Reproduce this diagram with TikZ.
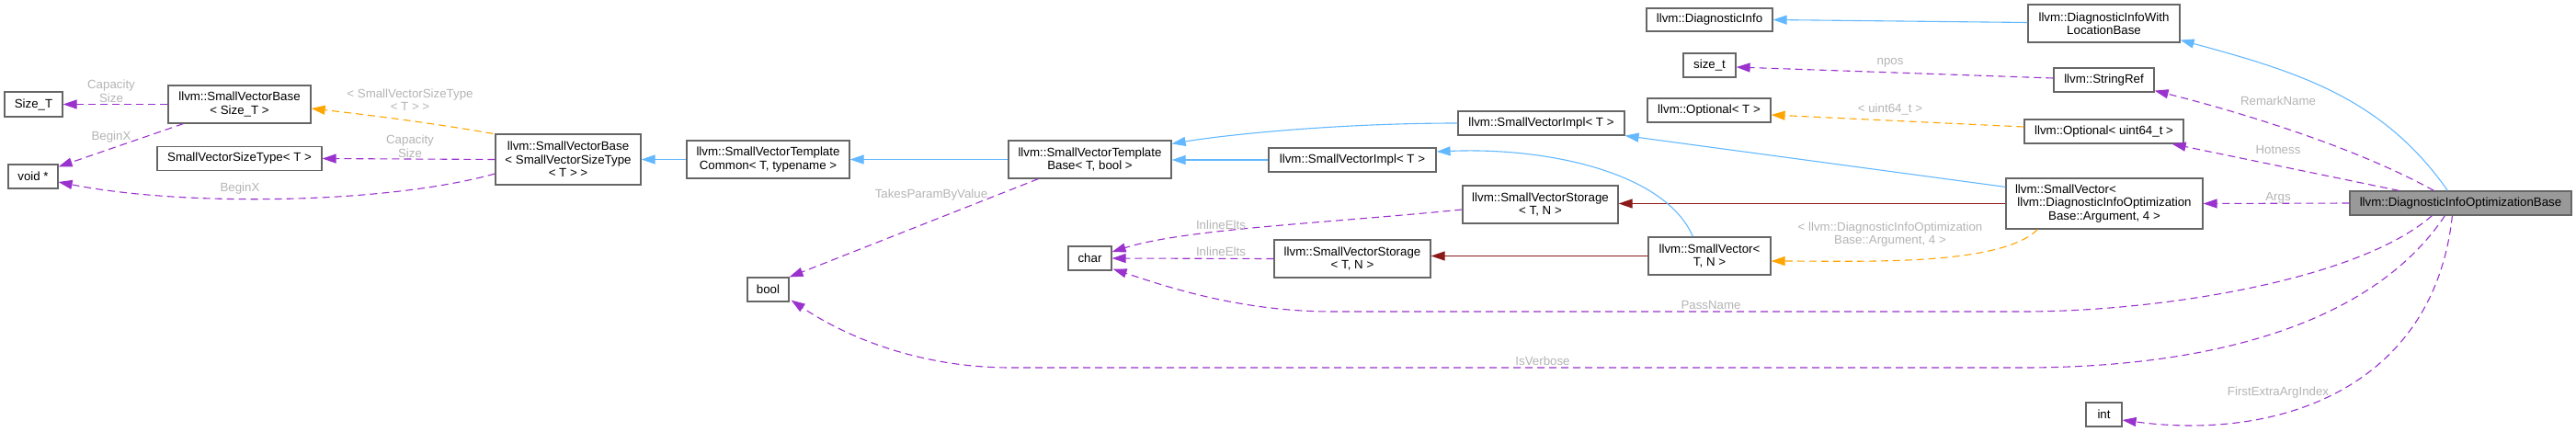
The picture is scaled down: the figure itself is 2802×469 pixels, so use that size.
\documentclass[tikz,border=0pt]{standalone}
\usepackage{fontspec}
\setmainfont{Liberation Sans}
\usetikzlibrary{arrows.meta,calc}
\definecolor{eblue}{HTML}{63B8FF}
\definecolor{epurple}{HTML}{9A32CD}
\definecolor{eorange}{HTML}{FFA500}
\definecolor{ered}{HTML}{8B1A1A}
\definecolor{boxgray}{HTML}{666666}
\definecolor{lblgray}{HTML}{B4B4B4}
\definecolor{mainfill}{HTML}{999999}
\begin{document}
\begin{tikzpicture}[x=1pt,y=-1pt,
  box/.style={draw=boxgray, line width=1.2pt, fill=white, inner sep=0pt, align=center,
    font=\fontsize{13.3}{14.5}\selectfont},
  lbl/.style={text=lblgray, inner sep=0pt, align=center, font=\fontsize{13.3}{14.5}\selectfont},
  tipa/.style={-{Triangle[length=15pt,width=10pt]}},
  inh/.style={draw=eblue, line width=1.1pt, tipa},
  prot/.style={draw=ered, line width=1.1pt, tipa},
  use/.style={draw=epurple, line width=1.1pt, dash pattern=on 8pt off 5pt, tipa},
  tmpl/.style={draw=eorange, line width=1.1pt, dash pattern=on 8pt off 5pt, tipa}]
\useasboundingbox (0,0) rectangle (2802,469);
% nodes
\node[box, minimum width=63pt, minimum height=27pt] (sizeT) at (36.5,113.5) {Size\_T};
\node[box, minimum width=155pt, minimum height=41pt] (svbS) at (260.5,113.5) {llvm::SmallVectorBase\\< Size\_T >};
\node[box, minimum width=54pt, minimum height=26pt] (voidp) at (36,192) {void *};
\node[box, minimum width=179pt, minimum height=26pt] (svst) at (260.5,172.5) {SmallVectorSizeType< T >};
\node[box, minimum width=158pt, minimum height=55pt] (svbT) at (618,173.5) {llvm::SmallVectorBase\\< SmallVectorSizeType\\< T > >};
\node[box, minimum width=177pt, minimum height=41pt] (svtc) at (835.5,173.5) {llvm::SmallVectorTemplate\\Common< T, typename >};
\node[box, minimum width=177pt, minimum height=41pt] (svtb) at (1185.5,173.5) {llvm::SmallVectorTemplate\\Base< T, bool >};
\node[box, minimum width=181pt, minimum height=26pt] (impl1) at (1676.5,134) {llvm::SmallVectorImpl< T >};
\node[box, minimum width=182pt, minimum height=26pt] (impl2) at (1471,174) {llvm::SmallVectorImpl< T >};
\node[box, minimum width=137pt, minimum height=25pt] (dinfo) at (1859.5,21.5) {llvm::DiagnosticInfo};
\node[box, minimum width=165pt, minimum height=41pt] (diwl) at (2288.5,25.5) {llvm::DiagnosticInfoWith\\LocationBase};
\node[box, minimum width=57pt, minimum height=26pt] (sizet) at (1859.5,71) {size\_t};
\node[box, minimum width=109pt, minimum height=26pt] (sref) at (2288.5,87) {llvm::StringRef};
\node[box, minimum width=134pt, minimum height=26pt] (optT) at (1859,120) {llvm::Optional< T >};
\node[box, minimum width=173pt, minimum height=26pt] (optU) at (2288.5,143) {llvm::Optional< uint64\_t >};
\node[box, minimum width=214pt, minimum height=55pt] (svA) at (2289,221.5) {\makebox[194pt][l]{llvm::SmallVector<}\\llvm::DiagnosticInfoOptimization\\Base::Argument, 4 >};
\node[box, fill=mainfill, minimum width=241pt, minimum height=26pt] (dob) at (2676.5,221) {llvm::DiagnosticInfoOptimizationBase};
\node[box, minimum width=169pt, minimum height=41pt] (storU) at (1675.5,222.5) {llvm::SmallVectorStorage\\< T, N >};
\node[box, minimum width=170pt, minimum height=41pt] (storL) at (1471,281.5) {llvm::SmallVectorStorage\\< T, N >};
\node[box, minimum width=133pt, minimum height=41pt] (svTN) at (1859.5,278.5) {llvm::SmallVector<\\T, N >};
\node[box, minimum width=47pt, minimum height=26pt] (char) at (1185.5,281) {char};
\node[box, minimum width=45pt, minimum height=26pt] (bool) at (835.5,315) {bool};
\node[box, minimum width=39pt, minimum height=26pt] (int) at (2288.5,451) {int};
% edges
\draw[use] (svbS.west) -- (sizeT.east);
\draw[use] ($(svbS.south west)+(17,0)$) -- ($(voidp.north east)+(0,3)$);
\draw[use] (svbT.west) -- (svst.east);
\draw[use] ($(svbT.west)+(0,15.5)$) .. controls +(-119,33) and +(137,27) .. ($(voidp.east)+(0,6)$);
\draw[tmpl] ($(svbT.north west)+(-2,0)$) .. controls +(-70,-12) and +(70,8) .. ($(svbS.east)+(0,4.5)$);
\draw[inh] (svtc.west) -- (svbT.east |- svtc.west);
\draw[inh] (svtb.west) -- (svtc.east);
\draw[inh] (impl2.west) -- (svtb.east |- impl2.west);
\draw[inh] (impl1.west) .. controls +(-130,0) and +(60,-10) .. ($(svtb.north east)+(0,4)$);
\draw[use] ($(svtb.south west)+(33,0)$) -- (bool.north east);
\draw[use] ($(storU.west)+(0,5.5)$) .. controls +(-150,15) and +(80,-25) .. ($(char.east)+(0,-7)$);
\draw[use] (storL.west) -- (char.east);
\draw[prot] (svA.west) -- (storU.east |- svA.west);
\draw[prot] (svTN.west) -- (storL.east |- svTN.west);
\draw[inh] ($(svTN.north west)+(49,0)$) .. controls +(-30,-70) and +(120,-5) .. ($(impl2.east)+(0,-9)$);
\draw[inh] ($(svA.north west)+(0,10)$) -- (impl1.south east);
\draw[tmpl] ($(svA.south west)+(35,0)$) .. controls +(-40,40) and +(100,0) .. ($(svTN.east)+(0,5.5)$);
\draw[inh] ($(dob.north west)+(107,0)$) .. controls +(-70,-100) and +(130,35) .. ($(diwl.south east)+(0,-3)$);
\draw[inh] ($(diwl.west)+(0,-1)$) -- (dinfo.east);
\draw[use] ($(sref.west)+(0,-2)$) -- ($(sizet.east)+(0,2)$);
\draw[tmpl] ($(optU.west)+(0,-5)$) -- ($(optT.east)+(0,5)$);
\draw[use] ($(dob.north west)+(92,0)$) .. controls +(-90,-50) and +(80,20) .. ($(sref.south east)+(0,-2)$);
\draw[use] ($(dob.north west)+(54,0)$) -- ($(optU.south east)+(-13,0)$);
\draw[use] (dob.west) -- (svA.east);
\draw[use] ($(dob.south west)+(90,0)$) .. controls +(-80,70) and +(150,0) .. (2200,339) -- (1450,339) .. controls +(-100,0) and +(60,20) .. ($(char.south east)+(1,-2)$);
\draw[use] ($(dob.south west)+(104,0)$) .. controls +(-80,120) and +(200,0) .. (2200,400) -- (1100,400) .. controls +(-100,0) and +(60,40) .. ($(bool.south east)+(2,-2)$);
\draw[use] ($(dob.south west)+(112,0)$) .. controls +(-20,186) and +(172,23) .. ($(int.east)+(0,6)$);
% labels
\node[lbl] (l1) at (121,99) {Capacity\\Size};
\node[lbl] (l2) at (121,149) {BeginX};
\node[lbl] (l3) at (446,159) {Capacity\\Size};
\node[lbl] (l4) at (261,205) {BeginX};
\node[lbl] (l5) at (446,108.5) {< SmallVectorSizeType\\< T > >};
\node[lbl] (l6) at (1013,212) {TakesParamByValue};
\node[lbl] (l7) at (1328,245) {InlineElts};
\node[lbl] (l8) at (1328,274) {InlineElts};
\node[lbl] (l9) at (2056,255) {< llvm::DiagnosticInfoOptimization\\Base::Argument, 4 >};
\node[lbl] (l10) at (2056,68) {npos};
\node[lbl] (l11) at (2056,119) {< uint64\_t >};
\node[lbl] (l12) at (2478,110) {RemarkName};
\node[lbl] (l13) at (2478,163) {Hotness};
\node[lbl] (l14) at (2478,215) {Args};
\node[lbl] (l15) at (1861,332) {PassName};
\node[lbl] (l16) at (1678,393) {IsVerbose};
\node[lbl] (l17) at (2478,427) {FirstExtraArgIndex};
\end{tikzpicture}
\end{document}
